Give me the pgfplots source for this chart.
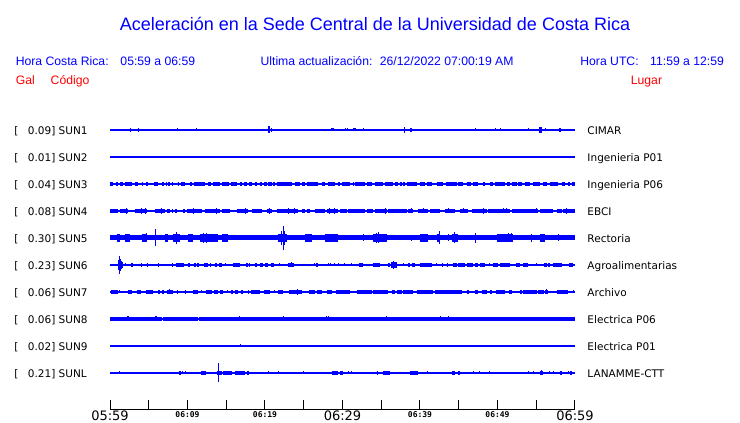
\documentclass[border=0pt]{standalone}
\usepackage{pgfplots}
\pgfplotsset{compat=1.18}
\usepackage{fontspec}
\setmainfont{DejaVu Sans}
\newfontfamily\hel{Liberation Sans}
\newfontfamily\dmono{DejaVu Sans Mono}
\definecolor{pblue}{RGB}{0,0,255}
\definecolor{pred}{RGB}{255,0,0}
\newcommand{\bigt}[1]{\mbox{\fontsize{13bp}{15bp}\selectfont #1}}
\newcommand{\smt}[1]{\mbox{\raisebox{2.3bp}{\dmono\bfseries\fontsize{8bp}{9bp}\selectfont #1}}}
\pgfplotsset{
  base/.style={pblue, line width=1.1bp},
  blk/.style={draw=none, mark=none, error bars/.cd, x dir=plus, x explicit, error mark=none,
     error bar style={draw=pblue, line width=#1}},
  spk/.style={draw=none, mark=none, error bars/.cd, y dir=both, y explicit, error mark=none,
     error bar style={draw=pblue, line width=1bp}},
}
\begin{document}
\begin{tikzpicture}
\useasboundingbox (-110bp,-14bp) rectangle (630bp,409bp);
\begin{axis}[at={(0,0)}, anchor=south west, scale only axis, width=465bp, height=306bp,
  xmin=0, xmax=60, ymin=0, ymax=306,
  axis x line=bottom, axis y line=none,
  x axis line style={-, line width=1bp, black},
  xtick={0,5,...,60},
  xticklabels={{\bigt{05:59}},{},{\smt{06:09}},{},{\smt{06:19}},{},{\bigt{06:29}},{},{\smt{06:39}},{},{\smt{06:49}},{},{\bigt{06:59}}},
  tick align=inside, major tick length=8.5bp,
  xtick style={black, line width=1bp}, ytick=\empty,
  xticklabel style={anchor=base, yshift=-11bp, inner sep=0pt},
  clip=false]
% baselines
\addplot[base] coordinates {(0,279) (60,279)};
\addplot[base] coordinates {(0,252) (60,252)};
\addplot[base] coordinates {(0,225) (60,225)};
\addplot[base] coordinates {(0,198) (60,198)};
\addplot[base] coordinates {(0,171) (60,171)};
\addplot[base] coordinates {(0,144) (60,144)};
\addplot[base] coordinates {(0,117) (60,117)};
\addplot[base] coordinates {(0,90) (60,90)};
\addplot[base] coordinates {(0,63) (60,63)};
\addplot[base] coordinates {(0,36) (60,36)};
% SUN1
\addplot[spk] coordinates {(2.62,279) +- (0,2) (3.66,279) +- (0,2.3) (8.69,279) +- (0,1.5) (11.14,279) +- (0,1.5)
 (20.43,279) +- (0,3.5) (20.56,279) +- (0,3.5) (20.86,279) +- (0,2) (28.6,279) +- (0,1.5) (28.73,279) +- (0,1.5) (28.86,279) +- (0,1.5)
 (30.37,279) +- (0,1.5) (30.62,279) +- (0,1.5) (31.4,279) +- (0,1.5) (31.53,279) +- (0,1.5) (31.65,279) +- (0,1.5) (32.69,279) +- (0,1.5)
 (38.06,279) +- (0,3) (38.71,279) +- (0,2) (38.84,279) +- (0,2) (42.15,279) +- (0,1) (44.82,279) +- (0,1.3) (45.72,279) +- (0,1)
 (47.14,279) +- (0,1.5) (49.72,279) +- (0,1.5) (50.37,279) +- (0,1.5) (53.98,279) +- (0,1.5) (55.4,279) +- (0,3) (55.53,279) +- (0,3)
 (55.66,279) +- (0,3) (56.22,279) +- (0,1.5) (57.08,279) +- (0,1) (58.06,279) +- (0,2) (58.19,279) +- (0,2)};
% SUN3 (block start, block length)
\addplot[blk=3.2bp] coordinates {(0,225) +- (0.39,0) (0.77,225) +- (0.22,0) (1.29,225) +- (0.43,0) (1.94,225) +- (0.86,0)
 (3.23,225) +- (0.43,0) (4.09,225) +- (0.21,0) (4.6,225) +- (0.26,0) (5.72,225) +- (0.43,0) (6.75,225) +- (0.17,0)
 (7.18,225) +- (0.17,0) (7.53,225) +- (0.21,0) (7.96,225) +- (0.17,0) (8.73,225) +- (0.17,0) (9.16,225) +- (0.52,0)
 (10.36,225) +- (0.26,0) (10.88,225) +- (1.38,0) (12.69,225) +- (0.34,0) (13.33,225) +- (0.86,0) (14.49,225) +- (0.86,0)
 (15.61,225) +- (0.73,0) (16.77,225) +- (0.3,0) (17.33,225) +- (0.3,0) (17.93,225) +- (0.35,0) (18.71,225) +- (0.21,0)
 (19.35,225) +- (0.22,0) (19.91,225) +- (0.3,0) (20.43,225) +- (0.43,0) (21.07,225) +- (0.22,0) (21.5,225) +- (1.94,0)
 (23.87,225) +- (0.64,0) (24.73,225) +- (0.43,0) (25.37,225) +- (1.51,0) (27.31,225) +- (0.43,0) (28.08,225) +- (0.95,0)
 (29.46,225) +- (0.21,0) (29.97,225) +- (0.99,0) (31.3,225) +- (0.18,0) (31.61,225) +- (1.29,0) (33.11,225) +- (0.65,0)
 (34.19,225) +- (1.07,0) (35.48,225) +- (1.07,0) (36.77,225) +- (0.43,0) (37.41,225) +- (0.22,0) (37.84,225) +- (0.22,0)
 (38.27,225) +- (1.29,0) (39.99,225) +- (0.65,0) (40.85,225) +- (0.65,0) (42.14,225) +- (0.86,0) (43.34,225) +- (1.38,0)
 (44.94,225) +- (0.64,0) (46.01,225) +- (0.52,0) (46.87,225) +- (0.65,0) (48.16,225) +- (0.22,0) (49.02,225) +- (0.43,0)
 (49.67,225) +- (1.29,0) (51.17,225) +- (0.43,0) (51.82,225) +- (0.64,0) (52.68,225) +- (0.43,0) (53.54,225) +- (0.64,0)
 (54.61,225) +- (0.86,0) (55.9,225) +- (0.43,0) (56.76,225) +- (1.08,0) (58.27,225) +- (0.43,0) (59.13,225) +- (0.21,0)
 (59.56,225) +- (0.44,0)};
% SUN4
\addplot[blk=4bp] coordinates {(0,198) +- (1.08,0) (1.29,198) +- (1.08,0) (3.23,198) +- (1.5,0) (5.81,198) +- (1.29,0)
 (7.31,198) +- (0.43,0) (7.96,198) +- (0.21,0) (8.39,198) +- (0.21,0) (9.46,198) +- (0.22,0) (9.89,198) +- (1.94,0)
 (12.26,198) +- (1.93,0) (14.41,198) +- (1.07,0) (16.34,198) +- (1.51,0) (18.28,198) +- (1.29,0) (20.21,198) +- (0.65,0)
 (21.5,198) +- (2.8,0) (24.73,198) +- (0.43,0) (25.37,198) +- (0.43,0) (26.45,198) +- (1.29,0) (27.95,198) +- (1.51,0)
 (29.67,198) +- (0.86,0) (30.75,198) +- (2.15,0) (33.11,198) +- (0.86,0) (34.19,198) +- (1.5,0) (35.91,198) +- (2.36,0)
 (38.49,198) +- (0.64,0) (39.78,198) +- (1.29,0) (41.28,198) +- (1.29,0) (43.22,198) +- (1.29,0) (45.15,198) +- (1.08,0)
 (46.66,198) +- (1.93,0) (48.81,198) +- (2.79,0) (51.82,198) +- (3.44,0) (55.47,198) +- (1.72,0) (57.62,198) +- (0.65,0)
 (58.48,198) +- (1.52,0)};
\addplot[spk] coordinates {(2.15,198) +- (0,3) (4.09,198) +- (0,3) (4.52,198) +- (0,3) (6.67,198) +- (0,3) (10.75,198) +- (0,3)
 (13.76,198) +- (0,3) (17.42,198) +- (0,3) (20.55,198) +- (0,3) (23.0,198) +- (0,3) (23.87,198) +- (0,3) (28.38,198) +- (0,3)
 (29.03,198) +- (0,3) (35.6,198) +- (0,3) (38.92,198) +- (0,2.5) (40.42,198) +- (0,2.5) (43.64,198) +- (0,2.5) (45.58,198) +- (0,2.5)
 (48.16,198) +- (0,3) (50.74,198) +- (0,2.5) (51.17,198) +- (0,2.5) (55.04,198) +- (0,2.5) (58.91,198) +- (0,3)};
% SUN5
\addplot[pblue, line width=5bp] coordinates {(0,171) (60,171)};
\addplot[blk=7.5bp] coordinates {(0.86,171) +- (0.43,0) (1.94,171) +- (0.64,0) (4.09,171) +- (0.64,0) (7.1,171) +- (0.43,0)
 (8.17,171) +- (0.86,0) (10.11,171) +- (0.64,0) (11.61,171) +- (2.37,0) (14.41,171) +- (0.86,0) (21.72,171) +- (1.07,0)
 (25.16,171) +- (0.86,0) (27.74,171) +- (1.72,0) (33.97,171) +- (1.72,0) (39.99,171) +- (1.08,0) (42.14,171) +- (0.43,0)
 (44.08,171) +- (0.86,0) (49.88,171) +- (2.15,0) (55.47,171) +- (0.65,0)};
\addplot[spk] coordinates {(5.89,171) +- (0,8.5) (8.6,171) +- (0,6) (12.04,171) +- (0,5) (12.47,171) +- (0,5) (13.55,171) +- (0,4)
 (22.15,171) +- (0,7) (22.36,171) +- (0,12) (22.58,171) +- (0,7) (29.03,171) +- (0,4) (4.73,171) +- (0,4.5) (2.15,171) +- (0,4)
 (32.77,171) +- (0,3.5) (34.4,171) +- (0,5) (34.62,171) +- (0,5.5) (35.26,171) +- (0,4) (38.92,171) +- (0,3) (40.42,171) +- (0,4)
 (42.48,171) +- (0,6.5) (43.64,171) +- (0,3.5) (44.51,171) +- (0,5.5) (47.21,171) +- (0,5) (50.31,171) +- (0,4) (51.39,171) +- (0,4.5)
 (51.82,171) +- (0,4.5) (54.4,171) +- (0,4) (55.82,171) +- (0,4) (57.84,171) +- (0,3.5)};
% SUN6
\addplot[blk=3.5bp] coordinates {(2.71,144) +- (0.21,0) (4.0,144) +- (0.17,0) (4.73,144) +- (0.22,0) (6.15,144) +- (0.17,0)
 (7.96,144) +- (0.21,0) (8.47,144) +- (1.12,0) (10.11,144) +- (0.21,0) (10.88,144) +- (0.17,0) (11.22,144) +- (0.26,0)
 (12.17,144) +- (0.43,0) (12.9,144) +- (0.13,0) (13.55,144) +- (0.21,0) (14.06,144) +- (0.43,0) (15.91,144) +- (0.86,0)
 (17.54,144) +- (0.22,0) (17.93,144) +- (0.13,0) (18.71,144) +- (0.21,0) (19.35,144) +- (0.43,0) (20.0,144) +- (0.34,0)
 (20.73,144) +- (0.43,0) (22.92,144) +- (0.86,0) (26.57,144) +- (0.22,0) (32.16,144) +- (0.52,0) (33.97,144) +- (0.86,0)
 (35.91,144) +- (0.21,0) (38.49,144) +- (0.21,0) (38.92,144) +- (0.43,0) (39.99,144) +- (1.51,0) (42.78,144) +- (0.22,0)
 (43.43,144) +- (0.21,0) (44.29,144) +- (0.43,0) (44.94,144) +- (0.86,0) (46.01,144) +- (0.86,0) (47.09,144) +- (0.43,0)
 (47.73,144) +- (0.65,0) (49.45,144) +- (0.65,0) (50.31,144) +- (1.29,0) (52.37,144) +- (0.52,0) (53.32,144) +- (0.65,0)
 (55.99,144) +- (0.34,0) (56.55,144) +- (0.21,0) (57.1,144) +- (1.17,0) (59.25,144) +- (0.52,0)};
\addplot[blk=6bp] coordinates {(0.99,144) +- (0.73,0) (36.2,144) +- (0.78,0)};
\addplot[spk] coordinates {(1.2,144) +- (0,9) (1.07,144) +- (0,5) (1.33,144) +- (0,6) (1.46,144) +- (0,4) (1.94,144) +- (0,1.5)
 (14.84,144) +- (0,1.5) (21.89,144) +- (0,1.5) (23.44,144) +- (0,2.5) (26.36,144) +- (0,1.5) (28.25,144) +- (0,1.5) (28.51,144) +- (0,1.5)
 (29.03,144) +- (0,1.5) (29.54,144) +- (0,1.5) (30.23,144) +- (0,1.5) (31.18,144) +- (0,1.5) (36.55,144) +- (0,4) (37.84,144) +- (0,1.5)
 (42.14,144) +- (0,1.5) (49.02,144) +- (0,1.5) (55.04,144) +- (0,1.5)};
% SUN7
\addplot[blk=3.5bp] coordinates {(0.13,117) +- (0.95,0) (2.37,117) +- (0.43,0) (3.44,117) +- (0.56,0) (4.6,117) +- (0.99,0)
 (6.24,117) +- (0.21,0) (6.75,117) +- (0.26,0) (7.31,117) +- (0.86,0) (8.6,117) +- (0.22,0) (10.75,117) +- (0.65,0)
 (12.34,117) +- (0.78,0) (13.46,117) +- (0.52,0) (14.19,117) +- (0.43,0) (15.61,117) +- (0.3,0) (16.13,117) +- (0.34,0)
 (16.9,117) +- (0.3,0) (17.76,117) +- (0.21,0) (18.19,117) +- (1.16,0) (19.91,117) +- (0.73,0) (21.72,117) +- (0.64,0)
 (23.09,117) +- (1.72,0) (25.67,117) +- (0.78,0) (26.66,117) +- (0.73,0) (27.95,117) +- (0.65,0) (29.11,117) +- (1.85,0)
 (31.82,117) +- (1.94,0) (33.97,117) +- (1.93,0) (36.34,117) +- (0.43,0) (37.07,117) +- (0.56,0) (37.84,117) +- (1.29,0)
 (39.56,117) +- (2.15,0) (41.93,117) +- (3.44,0) (46.01,117) +- (0.34,0) (47.09,117) +- (0.43,0) (47.95,117) +- (0.64,0)
 (49.02,117) +- (0.22,0) (49.79,117) +- (1.17,0) (51.52,117) +- (0.3,0) (52.89,117) +- (0.22,0) (53.32,117) +- (1.72,0)
 (55.26,117) +- (0.73,0) (56.12,117) +- (0.43,0) (57.62,117) +- (1.51,0)};
\addplot[spk] coordinates {(1.29,117) +- (0,1.5) (7.74,117) +- (0,2.5) (9.68,117) +- (0,2) (11.83,117) +- (0,1.5) (15.18,117) +- (0,1.5)
 (21.2,117) +- (0,1.5) (24.17,117) +- (0,3) (45.06,117) +- (0,2) (56.33,117) +- (0,2.5) (59.77,117) +- (0,1.5)};
% SUN8
\addplot[blk=3.4bp] coordinates {(0,90) +- (6.7,0) (7.0,90) +- (4.3,0) (11.5,90) +- (48.5,0)};
\addplot[spk] coordinates {(2.2,90) +- (0,2.5) (2.33,90) +- (0,2.5) (5.85,90) +- (0,2.5) (5.98,90) +- (0,2.5) (6.88,90) +- (0,2)
 (14.19,90) +- (0,2) (14.41,90) +- (0,2) (16.77,90) +- (0,2.5) (20.0,90) +- (0,1.7) (22.36,90) +- (0,2.5) (27.95,90) +- (0,2.5)
 (28.25,90) +- (0,2.5) (35.69,90) +- (0,2.5) (39.35,90) +- (0,1.7) (42.7,90) +- (0,2.5) (43.73,90) +- (0,2.5) (46.66,90) +- (0,1.5)
 (52.68,90) +- (0,1.5)};
% SUN9
\addplot[spk] coordinates {(16.81,63) +- (0,1.5) (27.82,63) +- (0,1)};
% SUNL
\addplot[blk=3.5bp] coordinates {(8.9,36) +- (0.26,0) (11.74,36) +- (0.6,0) (13.76,36) +- (0.65,0) (14.62,36) +- (1.16,0)
 (16.13,36) +- (1.29,0) (17.63,36) +- (0.3,0) (28.6,36) +- (0.77,0) (29.67,36) +- (0.43,0) (34.4,36) +- (0.22,0)
 (35.26,36) +- (0.86,0) (38.7,36) +- (1.08,0) (44.08,36) +- (0.43,0) (44.94,36) +- (0.21,0) (55.47,36) +- (0.35,0)
 (58.05,36) +- (0.22,0) (59.34,36) +- (0.22,0)};
\addplot[spk] coordinates {(1.2,36) +- (0,1.5) (6.67,36) +- (0,0.8) (9.33,36) +- (0,1.5) (9.68,36) +- (0,1.5) (13.98,36) +- (0,9.5)
 (20.43,36) +- (0,1.5) (21.72,36) +- (0,1.5) (24.94,36) +- (0,1.5) (26.79,36) +- (0,1) (28.81,36) +- (0,2) (30.75,36) +- (0,1.5)
 (31.18,36) +- (0,1.5) (31.91,36) +- (0,1) (32.9,36) +- (0,1) (33.97,36) +- (0,1) (40.93,36) +- (0,1.5) (42.57,36) +- (0,1)
 (44.29,36) +- (0,2) (46.87,36) +- (0,1.5) (47.73,36) +- (0,1.5) (49.02,36) +- (0,1.5) (49.88,36) +- (0,1) (50.96,36) +- (0,1)
 (52.03,36) +- (0,1) (53.97,36) +- (0,1.5) (54.61,36) +- (0,1.5) (55.64,36) +- (0,2.5) (56.76,36) +- (0,1.5) (57.19,36) +- (0,1.5)
 (59.13,36) +- (0,1.5)};
\end{axis}
\begin{scope}[x=1bp, y=-1bp, shift={(-110bp,409bp)}]
\node[anchor=base, inner sep=0pt, text=pblue, font=\hel\fontsize{18bp}{20bp}\selectfont] at (375,30.5)
  {Aceleración en la Sede Central de la Universidad de Costa Rica};
\begin{scope}[every node/.style={anchor=base west, inner sep=0pt, text=pblue, font=\hel\fontsize{12.2bp}{14bp}\selectfont}]
\node at (15.6,65.3) {Hora Costa Rica:};
\node at (120.3,65.3) {05:59 a 06:59};
\node at (260.4,65.3) {Ultima actualización:};
\node at (379.7,65.3) {26/12/2022 07:00:19 AM};
\node at (580.2,65.3) {Hora UTC:};
\node at (650,65.3) {11:59 a 12:59};
\node[text=pred] at (15.6,85) {Gal};
\node[text=pred] at (50.5,85) {Código};
\node[text=pred] at (630.7,85) {Lugar};
\end{scope}
\begin{scope}[every node/.style={anchor=base west, inner sep=0pt, font=\fontsize{10.5bp}{12bp}\selectfont}]
\foreach \r/\v/\c/\n in {130/0.09/SUN1/CIMAR, 157/0.01/SUN2/Ingenieria P01, 184/0.04/SUN3/Ingenieria P06,
  211/0.08/SUN4/EBCI, 238/0.30/SUN5/Rectoria, 265/0.23/SUN6/Agroalimentarias, 292/0.06/SUN7/Archivo,
  319/0.06/SUN8/Electrica P06, 346/0.02/SUN9/Electrica P01, 373/0.21/SUNL/LANAMME-CTT}{
  \node at (14.3,{\r+4.3}) {[};
  \node at (27.7,{\r+4.3}) {\v] \c};
  \node at (587.3,{\r+4.3}) {\n};
}
\end{scope}
\end{scope}
\end{tikzpicture}
\end{document}
